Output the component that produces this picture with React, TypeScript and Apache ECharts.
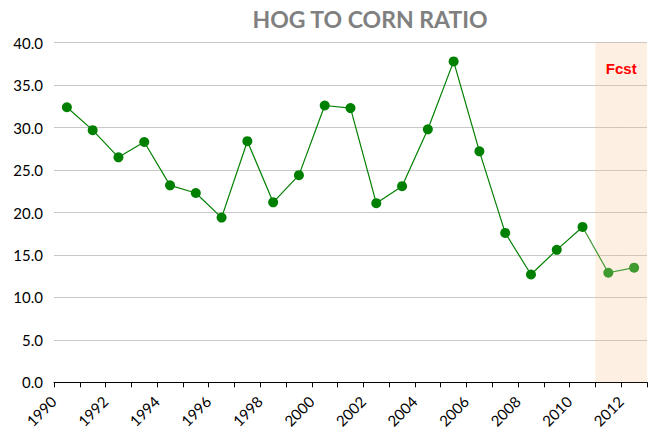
import React, { useEffect, useRef } from "react";
import * as echarts from "echarts";

const years = ["1990","1991","1992","1993","1994","1995","1996","1997","1998","1999","2000","2001","2002","2003","2004","2005","2006","2007","2008","2009","2010","2011","2012"];
const actual = [32.4, 29.7, 26.5, 28.3, 23.2, 22.3, 19.4, 28.4, 21.2, 24.4, 32.6, 32.3, 21.1, 23.1, 29.8, 37.8, 27.2, 17.6, 12.7, 15.6, 18.3];
const forecast = [12.9, 13.5];
const forecastYears = ["2011", "2012"];
const yMax = 40;

export default function App() {
  const ref = useRef<HTMLDivElement>(null);
  useEffect(() => {
    document.body.style.margin = "0";
    if (!ref.current) return;
    const chart = echarts.init(ref.current, null, { renderer: "svg" });
    const mainData: (number | null)[] = years.map((_, i) => (i < actual.length ? actual[i] : null));
    const fcData: any[] = years.map((_, i) => {
      if (i === actual.length - 1) return { value: actual[i], symbol: "none" };
      if (i >= actual.length) return forecast[i - actual.length];
      return null;
    });
    const shadeData = years.map((y) => (forecastYears.includes(y) ? yMax : null));
    const font = "Lato, 'Open Sans', sans-serif";
    chart.setOption({
      animation: false,
      title: {
        text: "HOG TO CORN RATIO",
        left: 365,
        textAlign: "center",
        top: 2,
        textStyle: { color: "#808080", fontSize: 23, fontWeight: "bold", fontFamily: font },
      },
      grid: { left: 54, right: 3, top: 42.7, bottom: 47.7, containLabel: false, outerBoundsMode: "none" },
      xAxis: {
        type: "category",
        data: years,
        boundaryGap: true,
        axisLine: { lineStyle: { color: "#000", width: 1 } },
        axisTick: { show: true, alignWithLabel: false, interval: 0, lineStyle: { color: "#000" }, length: 5 },
        axisLabel: {
          interval: 1,
          rotate: 45,
          color: "#000",
          fontSize: 15,
          lineHeight: 15,
          fontFamily: font,
          margin: 3,
          padding: [0, 19, 0, 0],
        },
        splitLine: { show: false },
      },
      yAxis: {
        type: "value",
        min: 0,
        max: yMax,
        interval: 5,
        axisLine: { show: false },
        axisTick: { show: false },
        axisLabel: {
          color: "#000",
          fontSize: 15,
          fontFamily: font,
          formatter: (v: number) => v.toFixed(1),
          margin: 11,
        },
        splitLine: { lineStyle: { color: "#c8c8c8", width: 1 } },
      },
      series: [
        {
          type: "bar",
          data: shadeData,
          barWidth: "100%",
          itemStyle: { color: "rgba(247,190,135,0.25)" },
          silent: true,
          z: 1,
        },
        {
          type: "line",
          data: mainData,
          symbol: "circle",
          symbolSize: 10,
          lineStyle: { color: "#008000", width: 1.2 },
          itemStyle: { color: "#008000" },
          connectNulls: false,
          z: 4,
        },
        {
          type: "line",
          data: fcData,
          symbol: "circle",
          symbolSize: 10,
          lineStyle: { color: "#3f9a2f", width: 1.2 },
          itemStyle: { color: "#3f9a2f" },
          z: 3,
          markArea: {
            silent: true,
            itemStyle: { color: "rgba(0,0,0,0)" },
            label: {
              show: true,
              position: "insideTop",
              distance: 18,
              color: "#ff0000",
              fontWeight: "bold",
              fontSize: 15,
              fontFamily: "'Liberation Sans', Arial, sans-serif",
            },
            data: [[{ xAxis: forecastYears[0], name: "Fcst" }, { xAxis: forecastYears[1] }]],
          },
        },
      ],
    });
    return () => chart.dispose();
  }, []);
  return <div ref={ref} style={{ width: 650, height: 430 }} />;
}
